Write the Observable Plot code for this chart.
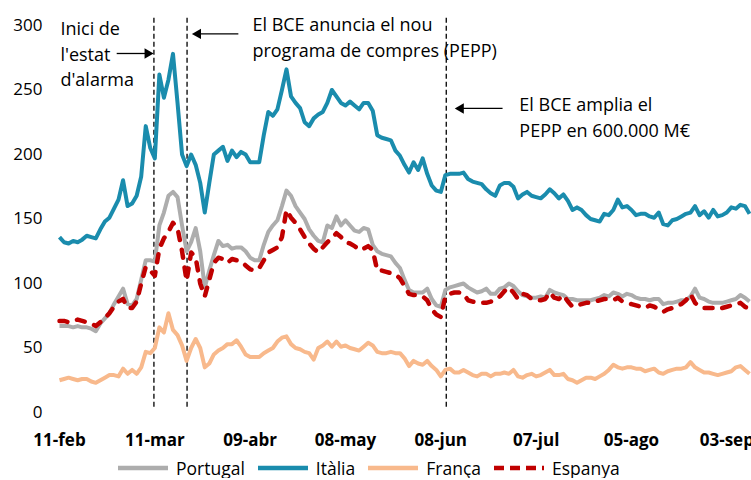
<!DOCTYPE html>
<html><head><meta charset="utf-8">
<script src="https://cdn.jsdelivr.net/npm/d3@7"></script>
<script src="https://cdn.jsdelivr.net/npm/@observablehq/plot@0.6"></script>
<style>
body{margin:0;background:#fff;font-family:"Open Sans",sans-serif;}
#legend{display:flex;align-items:center;height:20px;margin-left:117px;margin-top:0px;font-size:17.5px;color:#000;line-height:20px}
.item{display:flex;align-items:center;margin-right:12px}
.item svg{margin-right:7px}
g[aria-label^="x-axis"] text{font-weight:700}
</style></head><body>
<div id="chart"></div><div id="legend"></div>
<script>
// x: business-day index from 11-feb; tick labels every 21 business days
const tickIdx = [0,21,42,63,84,105,126,147];
const tickLabels = ["11-feb","11-mar","09-abr","08-may","08-jun","07-jul","05-ago","03-sep"];
const yTicks = [0,50,100,150,200,250,300];

const seriesNames = ["Portugal","Itàlia","França","Espanya"];
const seriesColors = ["#ADADAD","#1A8CAD","#F8B98C","#C00000"];

const portugal = [67,67,67,66,67,66,66,65,63,69,73,77,84,90,96,84,83,88,103,118,118,117,145,155,168,171,167,145,125,132,143,125,97,110,122,133,129,130,127,128,128,125,120,118,118,130,140,145,149,160,172,168,160,155,150,142,137,133,132,145,143,152,145,149,145,141,140,143,142,130,125,123,122,121,116,112,103,95,93,93,93,96,88,83,82,95,97,98,99,100,97,95,93,94,96,92,92,96,97,100,98,94,91,90,89,89,90,89,95,93,92,91,88,88,87,87,87,87,88,89,91,90,93,92,90,92,91,89,88,88,87,88,88,84,85,85,86,87,87,90,96,89,88,86,85,85,85,86,87,88,91,89,86];
const italia = [136,132,131,133,132,134,137,136,135,142,148,151,158,165,180,160,162,168,183,222,205,197,262,244,258,278,240,200,191,200,192,178,155,178,200,203,206,195,203,198,202,200,194,194,194,215,233,230,235,250,266,245,240,236,225,222,228,231,233,240,250,245,240,238,241,238,235,240,240,234,215,213,212,211,203,199,192,186,194,188,197,185,176,172,171,184,185,185,185,186,181,179,178,177,173,170,168,176,178,178,175,166,169,171,168,167,166,169,173,170,166,169,164,157,159,157,153,150,149,148,154,153,157,165,159,160,157,153,154,154,152,151,155,146,145,149,150,152,154,155,160,153,156,151,157,152,153,155,159,158,161,160,154];
const franca = [25,26,27,26,25,26,26,24,23,25,27,29,29,28,34,30,33,30,35,47,46,50,66,62,77,64,60,52,40,50,57,50,35,38,45,48,50,53,53,56,51,45,43,43,43,46,48,50,55,58,59,53,50,49,47,46,41,50,52,55,51,55,51,52,50,49,48,51,54,52,47,46,46,47,46,46,42,36,40,38,37,40,36,33,28,33,34,31,31,33,31,29,28,30,30,28,30,30,31,30,33,28,27,29,30,28,29,31,33,29,29,30,26,25,23,25,27,27,26,28,30,33,37,35,34,35,35,34,34,32,33,34,31,30,32,33,34,34,35,39,35,33,31,31,30,29,30,31,32,35,36,33,30];
const espanya = [71,71,70,71,72,71,70,69,67,70,73,77,82,86,88,81,81,86,100,113,110,106,127,135,140,147,143,125,102,124,120,100,90,103,116,120,119,116,119,118,117,114,111,110,112,118,124,126,128,136,157,151,147,142,136,131,127,124,128,132,135,139,136,132,131,129,126,127,129,126,110,110,109,108,107,104,98,92,91,91,90,87,80,76,74,90,92,93,93,92,87,86,85,85,85,86,87,90,94,97,93,88,92,91,88,87,87,88,93,89,88,91,86,82,83,84,85,85,86,87,88,88,87,89,86,85,84,83,82,81,83,82,80,78,80,81,83,84,87,92,85,82,81,81,81,80,81,82,83,84,85,82,80];

// event dates (position on the business-day index)
const eventIdx = [20.8, 28.1, 85.2];

const annotTexts = ["Inici de\nl'estat\nd'alarma", "El BCE anuncia el nou\nprograma de compres (PEPP)", "El BCE amplia el\nPEPP en 600.000 M€"];
const annotX = [0.2, 42.5, 101.3];
const annotY = [306.5, 309.5, 247.5];

const arrowX1 = [12.6, 39.4, 97.6];
const arrowX2 = [19.4, 30.5, 88.4];
const arrowY = [278.3, 293.5, 235.7];
const arrowRot = [90, -90, -90];

const allSeries = [portugal, italia, franca, espanya];
const rows = allSeries.map((vals, k) => vals.map((v, i) => ({i, v, s: seriesNames[k]})));
const annots = annotTexts.map((t, k) => ({x: annotX[k], y: annotY[k], text: t}));
const arrows = arrowX1.map((x1, k) => ({x1, x2: arrowX2[k], y: arrowY[k], r: arrowRot[k]}));

const lineMark = (k) => Plot.line(rows[k], {
  x: "i", y: "v", stroke: seriesColors[k], strokeWidth: k === 3 ? 4.5 : 4,
  strokeLinejoin: "round", strokeLinecap: k === 3 ? "round" : "butt",
  strokeDasharray: k === 3 ? "8,10" : null
});

const chart = Plot.plot({
  width: 751, height: 458,
  marginLeft: 59, marginRight: 2, marginTop: 25, marginBottom: 46,
  style: {fontFamily: '"Open Sans", sans-serif', fontSize: "17px", color: "#000", background: "#fff", overflow: "visible"},
  x: {domain: [0, 152], ticks: tickIdx, tickFormat: i => tickLabels[tickIdx.indexOf(i)], tickSize: 0, tickPadding: 21, label: null},
  y: {domain: [0, 300], ticks: yTicks, tickSize: 0, tickPadding: 17, label: null},
  marks: [
    Plot.ruleX(eventIdx, {x: d => d, y1: 4, y2: 307, stroke: "#000", strokeWidth: 1.3, strokeDasharray: "5,3"}),
    lineMark(0), lineMark(1), lineMark(2), lineMark(3),
    Plot.text(annots, {x: "x", y: "y", text: "text", textAnchor: "start", lineAnchor: "top", lineHeight: 1.42, fontSize: 18, fill: "#000"}),
    Plot.link(arrows, {x1: "x1", x2: "x2", y1: "y", y2: "y", stroke: "#000", strokeWidth: 1.3}),
    Plot.dot(arrows, {x: "x2", y: "y", symbol: "triangle2", r: 5, fill: "#000", stroke: null, rotate: "r"})
  ]
});
document.getElementById("chart").appendChild(chart);

// legend
const leg = document.getElementById("legend");
seriesNames.forEach((name, k) => {
  const item = document.createElement("div");
  item.className = "item";
  const dash = k === 3 ? 'stroke-dasharray="10,6"' : '';
  item.innerHTML = `<svg width="52" height="10"><line x1="1" y1="5" x2="51" y2="5" stroke="${seriesColors[k]}" stroke-width="4.5" ${dash}/></svg><span>${name}</span>`;
  leg.appendChild(item);
});
</script>
</body></html>
